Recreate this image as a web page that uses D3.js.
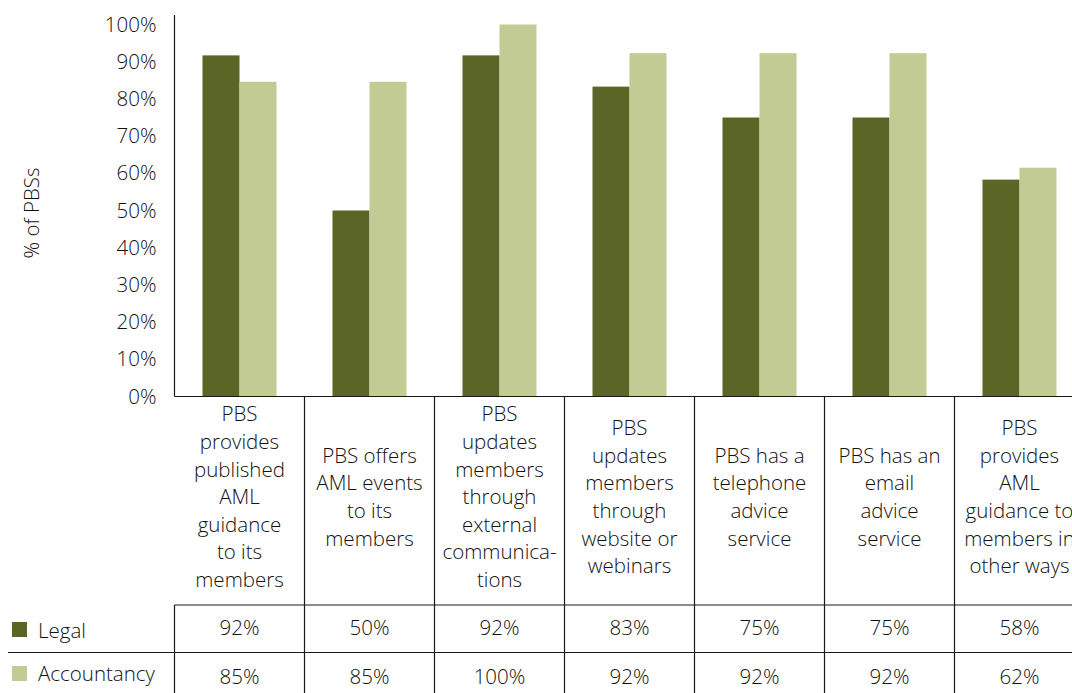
<!DOCTYPE html>
<html>
<head>
<meta charset="utf-8">
<script src="https://cdn.jsdelivr.net/npm/d3@7/dist/d3.min.js"></script>
<style>
  html, body { margin: 0; padding: 0; background: #fff; }
  svg { display: block; }
  text { font-family: "Open Sans", Lato, sans-serif; font-weight: 300; fill: #111; }
</style>
</head>
<body>
<svg id="chart" width="1072" height="693"></svg>
<script>
// ---- data ----
const categories = [
  "PBS provides published AML guidance to its members",
  "PBS offers AML events to its members",
  "PBS updates members through external communications",
  "PBS updates members through website or webinars",
  "PBS has a telephone advice service",
  "PBS has an email advice service",
  "PBS provides AML guidance to members in other ways"
];
const categoryLines = [
  ["PBS", "provides", "published", "AML", "guidance", "to its", "members"],
  ["PBS offers", "AML events", "to its", "members"],
  ["PBS", "updates", "members", "through", "external", "communica-", "tions"],
  ["PBS", "updates", "members", "through", "website or", "webinars"],
  ["PBS has a", "telephone", "advice", "service"],
  ["PBS has an", "email", "advice", "service"],
  ["PBS", "provides", "AML", "guidance to", "members in", "other ways"]
];
const seriesNames = ["Legal", "Accountancy"];
const legalValues = [91.7, 50, 91.7, 83.3, 75, 75, 58.3];
const accountancyValues = [84.6, 84.6, 100, 92.3, 92.3, 92.3, 61.5];
const yTicks = [0, 10, 20, 30, 40, 50, 60, 70, 80, 90, 100];
const yTitle = "% of PBSs";
const colors = ["#5b6626", "#c3cb95"];

const series = [legalValues, accountancyValues];

// ---- layout ----
const svg = d3.select("#chart");
const left = 174.5, bandW = 130;
const yTop = 15, y0 = 396.5;
const labelBottom = 605, rowLine = 652.5, rowBottom = 700;
const fs = "20.5px";

const x = d3.scaleBand().domain(categories).range([left, left + bandW * categories.length]).paddingInner(0).paddingOuter(0);
const xs = d3.scaleBand().domain(seriesNames).range([28, 102]).padding(0);
const y = d3.scaleLinear().domain([0, 100]).range([y0, 24.5]);
const fmt = d3.format(".0f");

// bars
const g = svg.append("g");
categories.forEach((c, i) => {
  seriesNames.forEach((s, j) => {
    g.append("rect")
      .attr("x", x(c) + xs(s))
      .attr("y", y(series[j][i]))
      .attr("width", xs.bandwidth())
      .attr("height", y(0) - y(series[j][i]))
      .attr("fill", colors[j]);
  });
});

// y axis
const yAxis = d3.axisLeft(y).tickValues(yTicks).tickSize(0).tickPadding(18).tickFormat(d => d + "%");
const ya = svg.append("g").attr("transform", `translate(${left},0)`).call(yAxis);
ya.select(".domain").remove();
ya.selectAll("text").style("font-size", fs).style("font-family", "'Open Sans', Lato, sans-serif").style("font-weight", 300).attr("fill", "#111");

const lineColor = "#1a1a1a";
// y axis line
svg.append("line").attr("x1", left).attr("x2", left).attr("y1", yTop).attr("y2", y0).attr("stroke", lineColor).attr("stroke-width", 1.2);
// x axis baseline
svg.append("line").attr("x1", left).attr("x2", 1072).attr("y1", y0).attr("y2", y0).attr("stroke", lineColor).attr("stroke-width", 1.2);

// column separators
categories.forEach((c, i) => {
  if (i > 0) {
    svg.append("line").attr("x1", x(c)).attr("x2", x(c)).attr("y1", y0).attr("y2", rowBottom).attr("stroke", lineColor).attr("stroke-width", 1.2);
  }
});
// left table border
svg.append("line").attr("x1", left).attr("x2", left).attr("y1", labelBottom).attr("y2", rowBottom).attr("stroke", lineColor).attr("stroke-width", 1.2);
// table top
svg.append("line").attr("x1", left).attr("x2", 1072).attr("y1", labelBottom).attr("y2", labelBottom).attr("stroke", lineColor).attr("stroke-width", 1.2);
// row separator
svg.append("line").attr("x1", 8).attr("x2", 1072).attr("y1", rowLine).attr("y2", rowLine).attr("stroke", lineColor).attr("stroke-width", 1.2);

// category labels
const lh = 27.6, labelCenter = 497;
categories.forEach((c, i) => {
  const lines = categoryLines[i];
  const t = svg.append("text").attr("text-anchor", "middle").style("font-size", fs);
  lines.forEach((ln, k) => {
    t.append("tspan")
      .attr("x", x(c) + x.bandwidth() / 2)
      .attr("y", labelCenter + (k - (lines.length - 1) / 2) * lh)
      .attr("dy", "0.35em")
      .text(ln);
  });
});

// table values
const rowCenters = [628, 677];
series.forEach((vals, j) => {
  categories.forEach((c, i) => {
    svg.append("text")
      .attr("x", x(c) + x.bandwidth() / 2)
      .attr("y", rowCenters[j])
      .attr("dy", "0.35em")
      .attr("text-anchor", "middle")
      .style("font-size", fs)
      .text(fmt(vals[i]) + "%");
  });
  // legend
  svg.append("rect").attr("x", 12).attr("y", [622, 666][j]).attr("width", 15).attr("height", 15).attr("fill", colors[j]);
  svg.append("text").attr("x", 38).attr("y", [631, 674][j]).attr("dy", "0.35em").style("font-size", fs).text(seriesNames[j]);
});

// y title
svg.append("text")
  .attr("transform", `translate(32,213) rotate(-90)`)
  .attr("text-anchor", "middle")
  .attr("dy", "0.35em")
  .style("font-size", fs)
  .text(yTitle);
</script>
</body>
</html>
